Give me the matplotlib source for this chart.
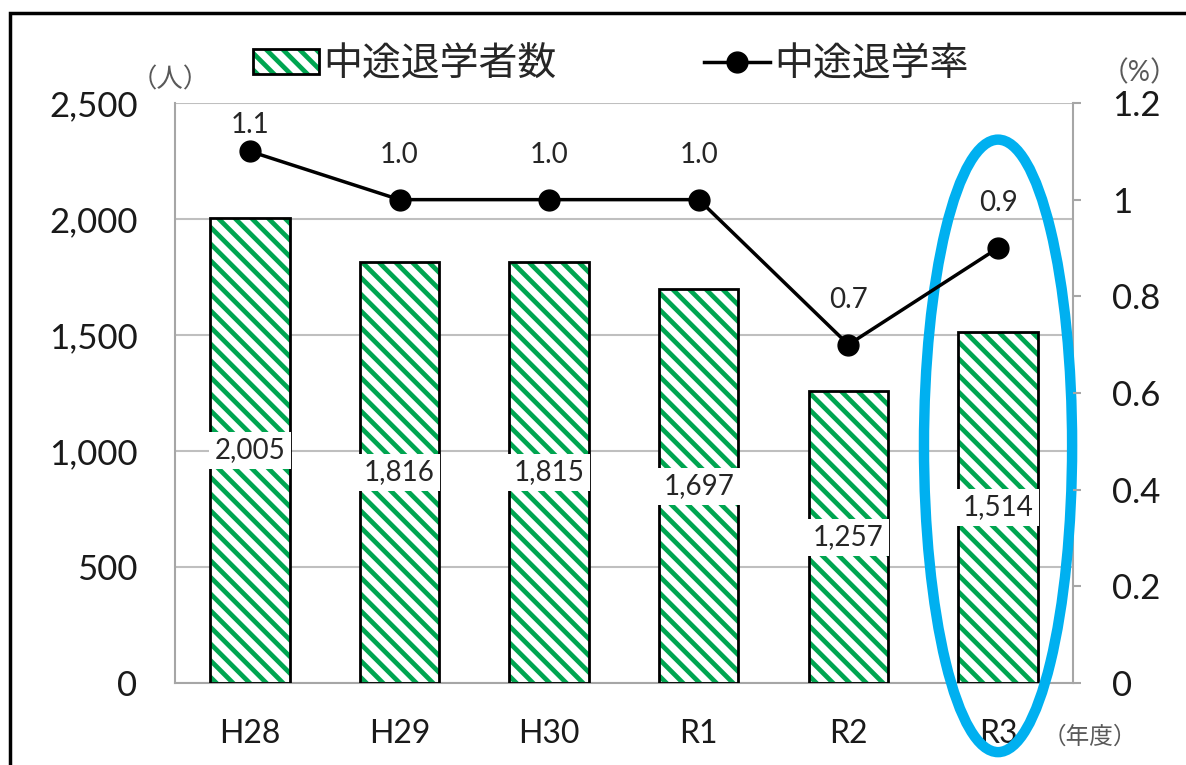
import matplotlib
matplotlib.use('Agg')
import matplotlib.pyplot as plt
from matplotlib.patches import Patch, Ellipse, Rectangle
from matplotlib.lines import Line2D
from matplotlib.legend_handler import HandlerTuple
from matplotlib.ticker import FuncFormatter

plt.rcParams['font.family'] = ['Lato', 'Noto Sans CJK JP', 'DejaVu Sans']
plt.rcParams['hatch.linewidth'] = 3.4

years = ['H28', 'H29', 'H30', 'R1', 'R2', 'R3']
dropouts = [2005, 1816, 1815, 1697, 1257, 1514]
rates = [1.1, 1.0, 1.0, 1.0, 0.7, 0.9]

green = '#00a550'
grid_gray = '#bfbfbf'
text_col = '#262626'

fig = plt.figure(figsize=(11.86, 7.65), dpi=100)
ax = fig.add_axes([0.1476, 0.1072, 0.757, 0.7582])
ax2 = ax.twinx()

x = list(range(len(years)))

# hatched bars, then a black outline on top
ax.bar(x, dropouts, width=0.53, color='white', edgecolor=green, hatch='\\\\', linewidth=0, zorder=2)
ax.bar(x, dropouts, width=0.53, fill=False, edgecolor='black', linewidth=2, zorder=3)

for xi, v in zip(x, dropouts):
    ax.text(xi, v / 2, f'{v:,}', ha='center', va='center', fontsize=20, color=text_col, zorder=4,
            bbox=dict(facecolor='white', edgecolor='none', pad=4))

ax.set_xlim(-0.5, 5.5)
ax.set_ylim(0, 2500)
ax.set_yticks([0, 500, 1000, 1500, 2000, 2500])
ax.yaxis.set_major_formatter(FuncFormatter(lambda v, p: f'{int(v):,}'))
ax.set_xticks(x)
ax.set_xticklabels(years)
ax.grid(axis='y', color=grid_gray, linewidth=1.5, zorder=0)
ax.set_axisbelow(True)
ax.tick_params(axis='y', length=0, pad=27, labelsize=25, labelcolor='#1a1a1a')
ax.tick_params(axis='x', length=0, pad=26, labelsize=23, labelcolor='#1a1a1a')
for s in ['left', 'right', 'bottom']:
    ax.spines[s].set_color('#a6a6a6')
    ax.spines[s].set_linewidth(1.5)
ax.spines['top'].set_visible(False)

# rate line on the secondary axis
ax2.plot(x, rates, color='black', linewidth=2.5, marker='o', markersize=15, zorder=5)
for xi, r in zip(x, rates):
    ax2.text(xi, min(r + 0.093, 1.155), f'{r:.1f}', ha='center', va='center', fontsize=20, color=text_col)
ax2.set_ylim(0, 1.2)
ax2.set_yticks([0, 0.2, 0.4, 0.6, 0.8, 1.0, 1.2])
ax2.yaxis.set_major_formatter(FuncFormatter(lambda v, p: f'{v:g}'))
ax2.yaxis.set_tick_params(which='major', length=6, width=1.5, color='#a6a6a6', pad=22,
                          labelsize=25, labelcolor='#1a1a1a')
for s in ['left', 'right', 'bottom', 'top']:
    ax2.spines[s].set_visible(False)

# highlight around the latest year
ell = Ellipse((5, 1022), 0.99, 2640, fill=False, edgecolor='#00b0f0', linewidth=7.5,
              clip_on=False, zorder=10)
ax.add_patch(ell)

# unit labels
fig.text(170 / 1186, 1 - 80 / 765, '（人）', ha='center', va='center', fontsize=19, color='#595959')
fig.text(1140 / 1186, 1 - 73 / 765, '（%）', ha='center', va='center', fontsize=20, color='#595959')
fig.text(1090 / 1186, 1 - 737 / 765, '（年度）', ha='center', va='center', fontsize=17, color='#595959')

# legend
bar_handle = (Patch(facecolor='white', edgecolor=green, hatch='\\\\', linewidth=0),
              Patch(fill=False, edgecolor='black', linewidth=2))
line_handle = Line2D([], [], color='black', linewidth=2.5, marker='o', markersize=15)
fig.legend([bar_handle, line_handle], ['中途退学者数', '中途退学率'],
           handler_map={tuple: HandlerTuple(ndivide=1)},
           loc='center', bbox_to_anchor=(0.515, 1 - 64 / 765), ncol=2, frameon=False,
           fontsize=28, columnspacing=3.8, handlelength=1.7, handleheight=0.6,
           handletextpad=0.1, labelcolor=text_col)

# outer frame
fig.patches.append(Rectangle((10 / 1186, -0.1), 1.2, 1.1 - 13 / 765, transform=fig.transFigure,
                             fill=False, edgecolor='black', linewidth=2.5))

fig.savefig('out.png', dpi=100)
